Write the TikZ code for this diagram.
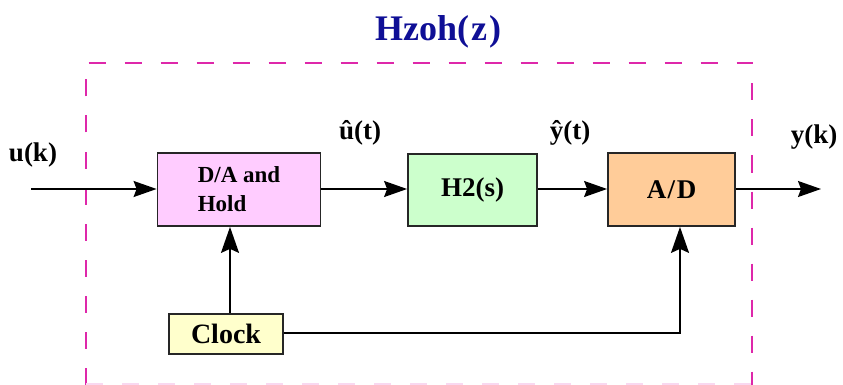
\documentclass[tikz,border=0pt]{standalone}
\usepackage{fontspec}
\setmainfont{Liberation Serif}
\usetikzlibrary{arrows.meta}
\definecolor{framepink}{RGB}{222,40,170}
\definecolor{titleblue}{RGB}{15,15,150}
\definecolor{dafill}{RGB}{255,204,255}
\definecolor{hfill}{RGB}{204,255,204}
\definecolor{adfill}{RGB}{255,204,153}
\definecolor{clockfill}{RGB}{255,255,204}
\begin{document}
\begin{tikzpicture}[x=1pt,y=-1pt,
  block/.style={draw=black!85, line width=1.8pt, inner sep=0pt, font=\bfseries},
  sig/.style={line width=1.7pt, draw=black},
  harrow/.style={sig, -{Stealth[length=23pt,width=16pt,inset=3pt]}},
  varrow/.style={sig, -{Stealth[length=26pt,width=18pt,inset=4pt]}},
  lbl/.style={font=\bfseries\fontsize{27}{30}\selectfont, inner sep=0pt}]
\useasboundingbox (0,0) rectangle (843,385);

% dashed frame of the overall discrete system
\draw[framepink, line width=2.5pt, dash pattern=on 17pt off 19pt]
  (86,384.5) -- (86,63) -- (752,63) -- (752,384.5);
\draw[framepink!18, line width=2.5pt, dash pattern=on 17pt off 19pt]
  (86,384.5) -- (752,384.5);
\node[font=\bfseries\fontsize{36}{40}\selectfont, text=titleblue, inner sep=0pt]
  (title) at (438,32) {Hzoh(\kern2pt z\kern2pt)};

% blocks
\node[block, fill=dafill, minimum width=163pt, minimum height=73pt,
      align=left, font=\bfseries\fontsize{23}{29}\selectfont]
  (da) at (239,189.5) {D/A and\\Hold};
\node[block, fill=hfill, minimum width=129pt, minimum height=72pt,
      font=\bfseries\fontsize{27}{30}\selectfont]
  (h2) at (472.5,190) {H2(s)};
\node[block, fill=adfill, minimum width=127pt, minimum height=73pt,
      font=\bfseries\fontsize{27}{30}\selectfont]
  (ad) at (671.5,189.5) {A\kern1.5pt/\kern1.5pt D};
\node[block, fill=clockfill, minimum width=114pt, minimum height=40pt,
      font=\bfseries\fontsize{28}{30}\selectfont]
  (clk) at (226,334) {Clock};

% signal path
\coordinate (in) at (31,189);
\coordinate (out) at (821,189);
\draw[harrow] (in) -- (in -| da.west);
\draw[harrow] (da.east |- in) -- (h2.west |- in);
\draw[harrow] (h2.east |- in) -- (ad.west |- in);
\draw[harrow] (ad.east |- in) -- (out);

% clock distribution
\draw[varrow] (clk.north -| 230,0) -- (da.south -| 230,0);
\draw[varrow] (clk.east |- 0,333) -- (680,333) -- (ad.south -| 680,0);

% signal labels
\node[lbl] (uk) at (33,155) {u(k)};
\node[lbl] (ut) at (360,133) {\^u(t)};
\node[lbl] (yt) at (570,133) {ŷ(t)};
\node[lbl] (yk) at (814,137) {y(k)};
\end{tikzpicture}
\end{document}
